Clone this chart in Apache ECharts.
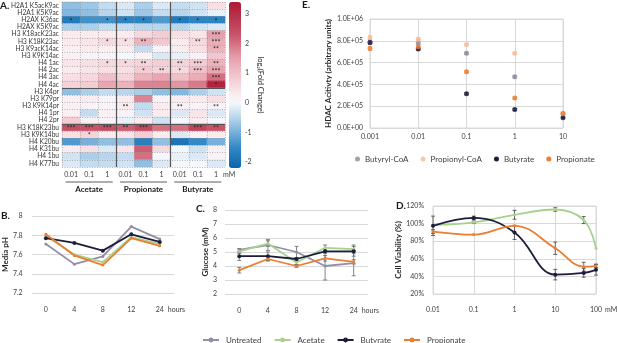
<!DOCTYPE html>
<html>
<head>
<meta charset="utf-8">
<script src="https://cdn.jsdelivr.net/npm/echarts@6/dist/echarts.min.js"></script>
<style>
  html, body { margin: 0; padding: 0; background: #fff; }
  #chart { width: 617px; height: 343px; }
</style>
</head>
<body>
<div id="chart"></div>
<script>
const FONT = 'Lato, "Open Sans", sans-serif'

// ---- A. heatmap
const ROWS = ['H2A1 K5acK9ac', 'H2A1 K5K9ac', 'H2AX K36ac', 'H2AX K5K9ac', 'H3 K18acK23ac', 'H3 K18K23ac',
  'H3 K9acK14ac', 'H3 K9K14ac', 'H4 1ac', 'H4 2ac', 'H4 3ac', 'H4 4ac', 'H3 K4pr', 'H3 K79pr', 'H3 K9K14pr',
  'H4 1pr', 'H4 2pr', 'H3 K18K23bu', 'H3 K9K14bu', 'H4 K20bu', 'H4 K31bu', 'H4 1bu', 'H4 K77bu']
const CONC = ['0.01', '0.1', '1', '0.01', '0.1', '1', '0.01', '0.1', '1']
const GROUPS = ['Acetate', 'Propionate', 'Butyrate']
const HEAT = [
  [-0.8, -0.7, -0.4, -0.2, -0.6, -0.2, -0.4, -0.3, 0.5],
  [-0.9, -0.8, -0.5, -0.3, -0.7, -0.4, -0.5, -0.3, -0.1],
  [-1.8, -1.4, -1.4, -1.6, -1.6, -1.3, -1.8, -1.6, -1.6],
  [-0.6, -0.6, -0.4, -0.4, -0.5, -0.5, -0.5, -0.3, -0.2],
  [0.3, 0.3, 0.3, 0.3, 0.6, 0.8, 0.5, 0.4, 1.5],
  [0.3, 0.4, 0.6, 0.5, 1.2, 0.9, 0.3, 0.6, 1.3],
  [0.2, 0.3, 0.2, 0.3, -0.4, 0.1, 0.3, 0.5, 1.2],
  [0.2, 0.1, 0.1, 0.0, 0.1, -0.2, -0.1, 0.2, 0.9],
  [0.4, 0.5, 0.6, 0.6, 0.7, 0.8, 0.7, 0.8, 1.2],
  [0.3, 0.4, 0.5, 0.5, 0.8, 0.7, 0.6, 1.0, 1.4],
  [0.5, 0.6, 1.0, 0.7, 1.2, 1.4, 1.0, 1.3, 2.0],
  [0.7, 0.8, 1.4, 1.2, 1.8, 1.8, 1.6, 1.9, 3.2],
  [-0.8, -0.6, -0.4, -0.5, -0.6, -0.8, -0.9, -0.6, -0.3],
  [0.2, 0.3, 0.1, 0.3, 1.8, 0.1, 0.3, 0.3, 0.5],
  [0.2, 0.1, 0.1, 0.3, -0.4, 0.3, 0.2, 0.1, 0.1],
  [0.2, -0.4, 0.2, 0.1, -0.3, 0.3, -0.2, 0.4, -0.2],
  [0.8, 0.2, 0.1, -0.1, 0.3, -0.3, 0.0, 0.3, 0.0],
  [2.4, 2.3, 2.4, 2.2, 2.5, 2.0, 2.0, 2.6, 2.3],
  [0.5, 0.7, 0.3, 0.4, 0.8, 0.3, -0.2, 0.2, 0.3],
  [-1.3, -1.0, -0.8, -0.8, -1.7, -0.8, -1.9, -1.5, -1.0],
  [0.3, 0.5, -0.2, 0.4, 2.2, 0.6, 0.0, -0.3, 0.2],
  [-0.3, -0.6, -0.5, -0.4, 2.0, 0.0, -0.1, -0.2, 0.1],
  [-0.2, -0.4, -0.4, -0.3, -0.8, -0.2, 0.0, 0.0, -0.2],
]
const SIG = [
  ['', '', '', '', '', '', '', '', ''],
  ['', '', '', '', '', '', '', '', ''],
  ['*', '', '*', '*', '*', '', '*', '*', '*'],
  ['', '', '', '', '', '', '', '', ''],
  ['', '', '', '', '', '', '', '', '***'],
  ['', '', '*', '*', '**', '', '', '**', '***'],
  ['', '', '', '', '', '', '', '', '**'],
  ['', '', '', '', '', '', '', '', ''],
  ['', '', '*', '*', '**', '', '**', '***', '**'],
  ['', '', '', '', '*', '**', '*', '***', '***'],
  ['', '', '', '', '', '', '', '', '***'],
  ['', '', '', '', '', '', '', '', '*'],
  ['', '', '', '', '', '', '', '', ''],
  ['', '', '', '', '', '', '', '', ''],
  ['', '', '', '**', '', '', '**', '', '**'],
  ['', '', '', '', '', '', '', '', ''],
  ['', '', '', '', '', '', '', '', ''],
  ['***', '***', '***', '**', '***', '', '', '***', '**'],
  ['', '*', '', '', '', '', '', '', ''],
  ['', '', '', '', '', '', '', '', ''],
  ['', '', '', '', '', '', '', '', ''],
  ['', '', '', '', '', '', '', '', ''],
  ['', '', '', '', '', '', '', '', ''],
]
const CB_MIN = -2.2
const CB_MAX = 3.4
const CB_TICKS = [-2, -1, 0, 1, 2, 3]

// ---- B. media pH / C. glucose
const HOURS = ['0', '4', '8', '12', '24']
const PH_UNTREATED = [7.71, 7.5, 7.58, 7.89, 7.76]
const PH_ACETATE = [7.79, 7.6, 7.52, 7.78, 7.71]
const PH_BUTYRATE = [7.77, 7.72, 7.64, 7.81, 7.73]
const PH_PROPIONATE = [7.81, 7.59, 7.49, 7.77, 7.69]

const GLU_UNTREATED = [5.15, 5.5, 5.0, 4.0, 4.2]
const GLU_UNTREATED_ERR = [0.1, 0.4, 0.4, 1.0, 0.9]
const GLU_ACETATE = [5.05, 5.6, 4.25, 5.3, 5.2]
const GLU_ACETATE_ERR = [0.15, 0.2, 0.15, 0.2, 0.3]
const GLU_BUTYRATE = [4.7, 4.7, 4.5, 5.05, 5.05]
const GLU_BUTYRATE_ERR = [0.3, 0.3, 0.1, 0.15, 0.35]
const GLU_PROPIONATE = [3.7, 4.5, 4.0, 4.55, 4.3]
const GLU_PROPIONATE_ERR = [0.2, 0.15, 0.1, 0.2, 0.15]

// ---- D. cell viability
const VIA_MM = [0.01, 0.1, 1, 10, 50, 100]
const VIA_ACETATE = [98.5, 101.5, 110, 116, 104, 72]
const VIA_ACETATE_ERR = [0, 1.5, 5, 2, 4, 0]
const VIA_BUTYRATE = [97.5, 106.5, 90, 42, 44, 47.5]
const VIA_BUTYRATE_ERR = [11, 2, 8, 6, 5, 6]
const VIA_PROPIONATE = [91, 87.5, 97.5, 72, 51, 52]
const VIA_PROPIONATE_ERR = [2, 0, 0, 7, 5, 2]

// ---- E. HDAC activity
const HDAC_MM = [0.001, 0.01, 0.1, 1, 10]
const HDAC_BUTYRYL_COA = [7.9e5, 7.8e5, 6.85e5, 4.7e5, 1.3e5]
const HDAC_BUTYRYL_COA_ERR = [2e4, 3e4, 1e4, 1e4, 5e3]
const HDAC_PROPIONYL_COA = [8.3e5, 8.15e5, 7.65e5, 6.85e5, 1.35e5]
const HDAC_PROPIONYL_COA_ERR = [1.5e4, 1.5e4, 1e4, 1e4, 5e3]
const HDAC_BUTYRATE = [7.85e5, 7.25e5, 3.15e5, 1.7e5, 0.95e5]
const HDAC_BUTYRATE_ERR = [1.5e4, 1e4, 1e4, 1e4, 5e3]
const HDAC_PROPIONATE = [7.3e5, 7.45e5, 5.15e5, 2.75e5, 1.32e5]
const HDAC_PROPIONATE_ERR = [1.5e4, 1.5e4, 1e4, 1e4, 1e4]

const C_UNTREATED = '#958da5'
const C_ACETATE = '#a9d18e'
const C_BUTYRATE = '#1c1c3c'
const C_PROPIONATE = '#ed7d31'
const C_BUTYRYL_COA = '#8e8a9c'
const C_PROPIONYL_COA = '#f6bb93'
const TXT = '#404040'
const GRID = '#d9d9d9'

// colour ramp for the heatmap
const RAMP = [
  [-2.2, [8, 102, 174]], [-1.5, [52, 137, 198]], [-1.0, [118, 176, 219]], [-0.5, [184, 213, 236]],
  [0, [244, 247, 251]], [0.25, [251, 238, 241]], [0.75, [244, 208, 215]], [1.5, [230, 160, 172]],
  [2.3, [200, 84, 104]], [3.4, [172, 24, 52]],
]
function rampColor(v) {
  for (let i = 1; i < RAMP.length; i++) {
    if (v <= RAMP[i][0]) {
      const [v0, c0] = RAMP[i - 1]
      const [v1, c1] = RAMP[i]
      const t = (v - v0) / (v1 - v0)
      const c = c0.map((x, k) => Math.round(x + (c1[k] - x) * t))
      return 'rgb(' + c.join(',') + ')'
    }
  }
  return 'rgb(' + RAMP[RAMP.length - 1][1].join(',') + ')'
}
const CB_COLORS = []
for (let i = 0; i <= 56; i++) CB_COLORS.push(rampColor(CB_MIN + i * (CB_MAX - CB_MIN) / 56))

function sci(v) {
  if (v === 0) return '0.0E+00'
  const e = Math.floor(Math.log10(v) + 1e-9)
  const m = v / Math.pow(10, e)
  return m.toFixed(1) + 'E+' + String(e).padStart(2, '0')
}
function logLabel(v) {
  return String(Number(v.toPrecision(2)))
}

function errBars(xIdx, yIdx, xs, ys, errs, color) {
  const data = xs.map((x, i) => [x, ys[i], errs[i]]).filter(d => d[2] > 0)
  return {
    type: 'custom',
    name: 'err',
    xAxisIndex: xIdx,
    yAxisIndex: yIdx,
    silent: true,
    z: 3,
    encode: { x: 0, y: 1 },
    data: data,
    renderItem(params, api) {
      const x = api.value(0)
      const y = api.value(1)
      const e = api.value(2)
      const top = api.coord([x, y + e])
      const bot = api.coord([x, y - e])
      const st = { stroke: color, lineWidth: 0.8 }
      return {
        type: 'group',
        children: [
          { type: 'line', shape: { x1: top[0], y1: top[1], x2: bot[0], y2: bot[1] }, style: st },
          { type: 'line', shape: { x1: top[0] - 2, y1: top[1], x2: top[0] + 2, y2: top[1] }, style: st },
          { type: 'line', shape: { x1: bot[0] - 2, y1: bot[1], x2: bot[0] + 2, y2: bot[1] }, style: st },
        ],
      }
    },
  }
}

function lineSeries(name, xIdx, yIdx, data, color, smooth) {
  return {
    name: name,
    type: 'line',
    xAxisIndex: xIdx,
    yAxisIndex: yIdx,
    data: data,
    smooth: smooth || false,
    symbol: 'circle',
    symbolSize: name === 'Butyrate' ? 4 : 3,
    itemStyle: { color: color },
    lineStyle: { color: color, width: 1.8 },
    z: 4,
  }
}

function scatterSeries(name, data, color) {
  return {
    name: name,
    type: 'scatter',
    xAxisIndex: 7,
    yAxisIndex: 6,
    data: HDAC_MM.map((x, i) => [x, data[i]]),
    symbolSize: 5,
    itemStyle: { color: color },
    z: 4,
  }
}

const heatData = []
HEAT.forEach((row, r) => row.forEach((v, c) => heatData.push([c, r, v])))

const tick = { fontSize: 7, color: TXT, fontFamily: FONT }
const yName = { fontSize: 8, fontWeight: 'bold', color: '#262626', fontFamily: FONT }
const hidden = { axisLine: { show: false }, axisTick: { show: false } }

const option = {
  animation: false,
  textStyle: { fontFamily: FONT },
  title: [
    { text: 'A.', left: 0, top: 1 },
    { text: 'B.', left: 1, top: 211 },
    { text: 'C.', left: 196, top: 204 },
    { text: 'D.', left: 396, top: 201 },
    { text: 'E.', left: 302, top: 0 },
  ].map(t => ({ ...t, padding: 0, textStyle: { fontSize: 10, fontWeight: 'bold', color: '#1a1a1a', fontFamily: FONT } })),
  legend: [
    {
      data: ['Butyryl-CoA', 'Propionyl-CoA', 'Butyrate', 'Propionate'],
      left: 350, top: 150, icon: 'circle', itemWidth: 5, itemHeight: 5, itemGap: 12,
      textStyle: { fontSize: 8, color: TXT, fontFamily: FONT },
    },
    {
      data: ['Untreated', 'Acetate', 'Butyrate', 'Propionate'],
      left: 197, top: 331, itemWidth: 16, itemHeight: 6, itemGap: 12,
      textStyle: { fontSize: 8, color: TXT, fontFamily: FONT, padding: [0, 0, 0, 2] },
    },
  ],
  visualMap: {
    type: 'continuous', min: CB_MIN, max: CB_MAX, seriesIndex: 0, calculable: false,
    left: 229, top: 2, itemWidth: 12, itemHeight: 166, padding: 0,
    inRange: { color: CB_COLORS },
  },
  grid: [
    { left: 62, top: 2, width: 163, height: 165 },
    { left: 229, top: 2, width: 12, height: 166 },
    { left: 31, top: 216, width: 143, height: 77 },
    { left: 225, top: 210, width: 143, height: 84 },
    { left: 433, top: 206, width: 163, height: 88, show: true, borderColor: GRID, borderWidth: 1 },
    { left: 370, top: 19, width: 193, height: 109, show: true, borderColor: GRID, borderWidth: 1 },
  ],
  xAxis: [
    { gridIndex: 0, type: 'category', data: CONC, position: 'bottom', ...hidden, axisLabel: { ...tick, margin: 4, interval: 0 }, splitLine: { show: false } },
    {
      gridIndex: 0, type: 'value', min: 0, max: 9, interval: 1, position: 'bottom', z: 5, ...hidden, axisLabel: { show: false },
      splitLine: { show: true, lineStyle: { color: '#8a8a8a', width: 0.6, type: [1, 1.5] } },
    },
    {
      gridIndex: 0, type: 'category', data: GROUPS, position: 'bottom', offset: 14, ...hidden,
      axisLabel: { fontSize: 8, fontWeight: 'bold', color: '#1a1a1a', margin: 4, interval: 0 },
    },
    { gridIndex: 1, type: 'value', show: false },
    { gridIndex: 2, type: 'category', data: HOURS, ...hidden, axisLabel: { ...tick, margin: 13 } },
    { gridIndex: 3, type: 'category', data: HOURS, ...hidden, axisLabel: { ...tick, margin: 13 } },
    {
      gridIndex: 4, type: 'log', logBase: 10, min: 0.01, max: 100, ...hidden,
      axisLabel: { ...tick, margin: 12, formatter: logLabel },
      splitLine: { show: true, lineStyle: { color: GRID, width: 1 } },
    },
    {
      gridIndex: 5, type: 'log', logBase: 10, min: 0.001, max: 10, ...hidden,
      axisLabel: { ...tick, margin: 5, formatter: logLabel },
      splitLine: { show: true, lineStyle: { color: GRID, width: 1 } },
    },
  ],
  yAxis: [
    {
      gridIndex: 0, type: 'category', data: ROWS, inverse: true, position: 'left', ...hidden,
      axisLabel: { fontSize: 6.6, color: '#333', margin: 3, interval: 0 }, splitLine: { show: false },
    },
    {
      gridIndex: 0, type: 'value', min: 0, max: 23, interval: 1, inverse: true, position: 'left', z: 5, ...hidden, axisLabel: { show: false },
      splitLine: { show: true, lineStyle: { color: '#8a8a8a', width: 0.6, type: [1, 1.5] } },
    },
    {
      gridIndex: 1, type: 'value', position: 'right', min: CB_MIN, max: CB_MAX,
      axisLine: { show: false },
      axisTick: { show: true, length: 2, customValues: CB_TICKS, lineStyle: { color: '#666' } },
      axisLabel: { ...tick, margin: 4, customValues: CB_TICKS },
      splitLine: { show: false },
      name: 'log\u2082(Fold Change)', nameLocation: 'middle', nameRotate: -90, nameGap: 15,
      nameTextStyle: { fontSize: 7.5, color: '#262626', fontFamily: FONT },
    },
    {
      gridIndex: 2, type: 'value', min: 7.2, max: 8, interval: 0.2, ...hidden,
      axisLabel: { ...tick, margin: 9 }, splitLine: { lineStyle: { color: GRID } },
      name: 'Media pH', nameLocation: 'middle', nameGap: 17, nameTextStyle: yName,
    },
    {
      gridIndex: 3, type: 'value', min: 2, max: 8, interval: 1, ...hidden,
      axisLabel: { ...tick, margin: 8 }, splitLine: { lineStyle: { color: GRID } },
      name: 'Glucose (mM)', nameLocation: 'middle', nameGap: 16, nameTextStyle: yName,
    },
    {
      gridIndex: 4, type: 'value', min: 20, max: 120, interval: 20, ...hidden,
      axisLabel: { ...tick, margin: 9, formatter: '{value}%' }, splitLine: { lineStyle: { color: GRID } },
      name: 'Cell Viability (%)', nameLocation: 'middle', nameGap: 25, nameTextStyle: yName,
    },
    {
      gridIndex: 5, type: 'value', min: 0, max: 1e6, interval: 2e5, ...hidden,
      axisLabel: { ...tick, margin: 7, formatter: sci }, splitLine: { lineStyle: { color: GRID } },
      name: 'HDAC Acitivty (arbitrary units)', nameLocation: 'middle', nameGap: 38, nameTextStyle: yName,
    },
  ],
  series: [
    {
      type: 'heatmap', xAxisIndex: 0, yAxisIndex: 0, data: heatData, z: 2,
      label: {
        show: true, fontSize: 7, color: '#222', offset: [0, 1.5],
        formatter: p => SIG[p.value[1]][p.value[0]],
      },
      emphasis: { disabled: true },
    },
    {
      type: 'scatter', xAxisIndex: 1, yAxisIndex: 1, data: [], silent: true,
      markLine: {
        silent: true, symbol: 'none', label: { show: false },
        lineStyle: { color: '#555', width: 1.2, type: 'solid' },
        data: [{ xAxis: 3 }, { xAxis: 6 }, { yAxis: 12 }, { yAxis: 17 }],
      },
      z: 6,
    },
    lineSeries('Untreated', 4, 3, PH_UNTREATED, C_UNTREATED),
    lineSeries('Acetate', 4, 3, PH_ACETATE, C_ACETATE),
    lineSeries('Butyrate', 4, 3, PH_BUTYRATE, C_BUTYRATE),
    lineSeries('Propionate', 4, 3, PH_PROPIONATE, C_PROPIONATE),
    lineSeries('Untreated', 5, 4, GLU_UNTREATED, C_UNTREATED),
    lineSeries('Acetate', 5, 4, GLU_ACETATE, C_ACETATE),
    lineSeries('Butyrate', 5, 4, GLU_BUTYRATE, C_BUTYRATE),
    lineSeries('Propionate', 5, 4, GLU_PROPIONATE, C_PROPIONATE),
    errBars(5, 4, [0, 1, 2, 3, 4], GLU_UNTREATED, GLU_UNTREATED_ERR, '#666'),
    errBars(5, 4, [0, 1, 2, 3, 4], GLU_ACETATE, GLU_ACETATE_ERR, '#666'),
    errBars(5, 4, [0, 1, 2, 3, 4], GLU_BUTYRATE, GLU_BUTYRATE_ERR, '#666'),
    errBars(5, 4, [0, 1, 2, 3, 4], GLU_PROPIONATE, GLU_PROPIONATE_ERR, '#666'),
    lineSeries('Acetate', 6, 5, VIA_MM.map((x, i) => [x, VIA_ACETATE[i]]), C_ACETATE, 0.4),
    lineSeries('Butyrate', 6, 5, VIA_MM.map((x, i) => [x, VIA_BUTYRATE[i]]), C_BUTYRATE, 0.4),
    lineSeries('Propionate', 6, 5, VIA_MM.map((x, i) => [x, VIA_PROPIONATE[i]]), C_PROPIONATE, 0.4),
    errBars(6, 5, VIA_MM, VIA_ACETATE, VIA_ACETATE_ERR, '#444'),
    errBars(6, 5, VIA_MM, VIA_BUTYRATE, VIA_BUTYRATE_ERR, '#444'),
    errBars(6, 5, VIA_MM, VIA_PROPIONATE, VIA_PROPIONATE_ERR, '#444'),
    errBars(7, 6, HDAC_MM, HDAC_BUTYRYL_COA, HDAC_BUTYRYL_COA_ERR, C_BUTYRYL_COA),
    errBars(7, 6, HDAC_MM, HDAC_PROPIONYL_COA, HDAC_PROPIONYL_COA_ERR, C_PROPIONYL_COA),
    errBars(7, 6, HDAC_MM, HDAC_BUTYRATE, HDAC_BUTYRATE_ERR, C_BUTYRATE),
    errBars(7, 6, HDAC_MM, HDAC_PROPIONATE, HDAC_PROPIONATE_ERR, C_PROPIONATE),
    scatterSeries('Butyryl-CoA', HDAC_BUTYRYL_COA, C_BUTYRYL_COA),
    scatterSeries('Propionyl-CoA', HDAC_PROPIONYL_COA, C_PROPIONYL_COA),
    scatterSeries('Butyrate', HDAC_BUTYRATE, C_BUTYRATE),
    scatterSeries('Propionate', HDAC_PROPIONATE, C_PROPIONATE),
  ],
}

const chart = echarts.init(document.getElementById('chart'), null, { renderer: 'canvas' })
chart.setOption(option)

// group underlines and unit labels, placed from the axes
const px = (finder, v) => chart.convertToPixel(finder, v)
const heatBottom = px({ yAxisIndex: 1 }, 23)
const extras = []
GROUPS.forEach((g, i) => {
  extras.push({
    type: 'line', silent: true,
    shape: { x1: px({ xAxisIndex: 1 }, i * 3 + 0.2), y1: heatBottom + 15, x2: px({ xAxisIndex: 1 }, i * 3 + 2.8), y2: heatBottom + 15 },
    style: { stroke: '#333', lineWidth: 0.8 },
  })
})
function unit(text, x, y) {
  return { type: 'text', silent: true, x: x, y: y, style: { text: text, fontSize: 7, fill: TXT, fontFamily: FONT, verticalAlign: 'top' } }
}
extras.push(unit('mM', px({ xAxisIndex: 1 }, 8.5) + 7, heatBottom + 4))
extras.push(unit('hours', px({ xAxisIndex: 4 }, 4) + 8, px({ yAxisIndex: 3 }, 7.2) + 13))
extras.push(unit('hours', px({ xAxisIndex: 5 }, 4) + 8, px({ yAxisIndex: 4 }, 2) + 13))
extras.push(unit('mM', px({ xAxisIndex: 6 }, 100) + 9, px({ yAxisIndex: 5 }, 20) + 12))
chart.setOption({ graphic: extras })
</script>
</body>
</html>
